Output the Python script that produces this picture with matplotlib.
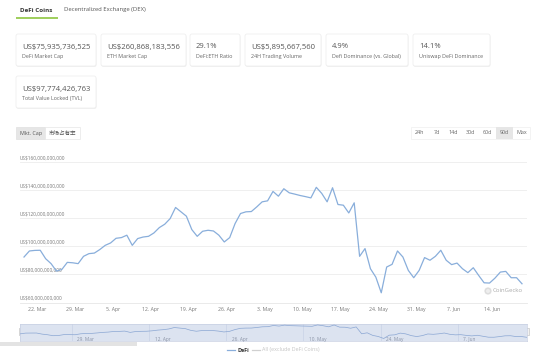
import numpy as np
import pandas as pd
import matplotlib
matplotlib.use("Agg")
import matplotlib.pyplot as plt
from matplotlib.patches import Rectangle, FancyBboxPatch, Circle

plt.rcParams['font.family'] = ['Open Sans', 'Noto Sans CJK SC', 'DejaVu Sans']

# DeFi market cap, US$ billions, one point per day (90d view)
start_time = '2021-03-19 14:00'
defi_mcap_bn = [92.3, 96.6, 97.0, 97.1, 91.1, 87.6, 82.3, 83.5, 88.5, 88.2,
                87.6, 92.8, 94.7, 95.1, 97.6, 100.6, 102.3, 105.6, 106.1, 107.8,
                100.6, 105.4, 106.5, 107.0, 109.4, 113.2, 115.6, 119.6, 127.5, 124.4,
                121.3, 111.8, 107.0, 110.6, 111.3, 110.8, 107.8, 103.0, 106.1, 116.1,
                123.2, 124.4, 124.6, 127.9, 131.5, 132.2, 138.9, 135.5, 140.8, 137.9,
                137.0, 136.0, 135.2, 134.3, 141.8, 137.5, 131.5, 141.5, 129.6, 129.1,
                123.6, 130.8, 92.8, 98.3, 84.0, 78.0, 66.9, 85.2, 87.1, 96.6,
                92.3, 82.8, 77.6, 82.8, 91.9, 90.0, 92.8, 97.1, 90.0, 86.9,
                88.0, 84.0, 81.2, 84.7, 79.2, 74.0, 73.8, 77.3, 81.6, 82.1,
                77.6, 77.6, 73.3]

y_ticks_bn = [60, 80, 100, 120, 140, 160]
x_tick_dates = ['2021-03-22', '2021-03-29', '2021-04-05', '2021-04-12', '2021-04-19',
                '2021-04-26', '2021-05-03', '2021-05-10', '2021-05-17', '2021-05-24',
                '2021-05-31', '2021-06-07', '2021-06-14']
x_tick_labels = ['22. Mar', '29. Mar', '5. Apr', '12. Apr', '19. Apr', '26. Apr', '3. May',
                 '10. May', '17. May', '24. May', '31. May', '7. Jun', '14. Jun']
nav_tick_dates = ['2021-03-29', '2021-04-12', '2021-04-26', '2021-05-10', '2021-05-24', '2021-06-07']
nav_tick_labels = ['29. Mar', '12. Apr', '26. Apr', '10. May', '24. May', '7. Jun']

card_values = ['US$75,935,736,525', 'US$260,868,183,556', '29.1%', 'US$5,895,667,560',
               '4.9%', '14.1%', 'US$97,774,426,763']
card_labels = ['DeFi Market Cap', 'ETH Market Cap', 'DeFi:ETH Ratio', '24H Trading Volume',
               'Defi Dominance (vs. Global)', 'Uniswap DeFi Dominance', 'Total Value Locked (TVL)']
range_buttons = ['24h', '7d', '14d', '30d', '60d', '90d', 'Max']

dates = pd.date_range(start_time, periods=len(defi_mcap_bn), freq='D')

W, H = 554, 354
fig = plt.figure(figsize=(W / 100, H / 100), dpi=100)
fig.patch.set_facecolor('white')

# pixel-space layer for the page elements
ui = fig.add_axes([0, 0, 1, 1])
ui.set_xlim(0, W)
ui.set_ylim(H, 0)
ui.axis('off')

# tabs
ui.text(36, 10, 'DeFi Coins', fontsize=4.5, fontweight='bold', color='#333333', ha='center', va='center')
ui.text(105, 10, 'Decentralized Exchange (DEX)', fontsize=4.2, color='#555555', ha='center', va='center')
ui.plot([16, 58], [17.5, 17.5], color='#8dc63f', lw=1.2, solid_capstyle='butt')

# stat cards
card_boxes = [(16, 34, 80), (101, 34, 85), (190, 34, 50), (245, 34, 76),
              (326, 34, 82), (413, 34, 77), (16, 76, 80)]
for (cx, cy, cw), val, lab in zip(card_boxes, card_values, card_labels):
    ui.add_patch(FancyBboxPatch((cx + 0.5, cy + 1), cw, 32, boxstyle='round,pad=0,rounding_size=2',
                                facecolor='#f1f1f1', edgecolor='none'))
    ui.add_patch(FancyBboxPatch((cx, cy), cw, 32, boxstyle='round,pad=0,rounding_size=2',
                                facecolor='white', edgecolor='#ececec', lw=0.5))
    ui.text(cx + 6, cy + 13, val, fontsize=5.5, color='#555555', ha='left', va='center')
    ui.text(cx + 6, cy + 22.5, lab, fontsize=3.9, color='#666666', ha='left', va='center')

# Mkt. Cap / dominance toggle
ui.add_patch(Rectangle((16, 127), 29, 12, facecolor='#e6e6e6', edgecolor='#e0e0e0', lw=0.5))
ui.add_patch(Rectangle((45, 127), 35, 12, facecolor='white', edgecolor='#e6e6e6', lw=0.5))
ui.text(30.5, 133, 'Mkt. Cap', fontsize=3.9, color='#555555', ha='center', va='center')
ui.text(62.5, 133, '市场占有率', fontsize=4.0, color='#555555', ha='center', va='center',
        family=['Noto Sans CJK SC', 'DejaVu Sans'])

# time range buttons
bx0, bw = 411, 17
ui.add_patch(Rectangle((bx0, 127), bw * len(range_buttons), 12, facecolor='white', edgecolor='#eeeeee', lw=0.5))
for i, lab in enumerate(range_buttons):
    if lab == '90d':
        ui.add_patch(Rectangle((bx0 + i * bw, 127), bw, 12, facecolor='#e6e6e6', edgecolor='none'))
    ui.text(bx0 + i * bw + bw / 2, 133, lab, fontsize=3.9, color='#666666', ha='center', va='center')

# main chart
px_day = 5.413
x_left_px, x_right_px, x_first_px = 20, 527, 24
y_top_px, y_bot_px = 161.7, 302.5
ax = fig.add_axes([x_left_px / W, (H - y_bot_px) / H, (x_right_px - x_left_px) / W,
                   (y_bot_px - y_top_px) / H])
ax.set_facecolor('none')
ax.set_xlim(dates[0] - pd.Timedelta(days=(x_first_px - x_left_px) / px_day),
            dates[0] + pd.Timedelta(days=(x_right_px - x_first_px) / px_day))
ax.set_ylim(60, 160)
for v in y_ticks_bn:
    ax.axhline(v, color='#ececec', lw=0.6, zorder=0)
    ax.text(0.0, v + 1.2, 'US$%d,000,000,000' % v, transform=ax.get_yaxis_transform(),
            fontsize=3.4, color='#777777', ha='left', va='bottom', zorder=1,
            bbox=dict(facecolor='white', edgecolor='none', pad=0.3))
ax.plot(dates, defi_mcap_bn, color='#89aedb', lw=0.9, zorder=3)
ax.set_yticks([])
ax.set_xticks(pd.to_datetime(x_tick_dates))
ax.set_xticklabels(x_tick_labels, fontsize=3.7, color='#777777')
ax.tick_params(axis='x', length=0, pad=3)
for s in ['top', 'left', 'right']:
    ax.spines[s].set_visible(False)
ax.spines['bottom'].set_color('#e6e6e6')
ax.spines['bottom'].set_linewidth(0.6)

# CoinGecko watermark
ui.add_patch(Circle((488, 291), 3.6, facecolor='#dddddd', edgecolor='none'))
ui.add_patch(Circle((488, 291), 2.0, facecolor='#eeeeee', edgecolor='none'))
ui.text(493, 291, 'CoinGecko', fontsize=4.3, color='#aaaaaa', ha='left', va='center')

# navigator
nav_top, nav_bot = 324, 341
nav = fig.add_axes([x_left_px / W, (H - nav_bot) / H, (x_right_px - x_left_px) / W,
                    (nav_bot - nav_top) / H])
nav.set_xlim(dates[0], dates[-1])
nav.set_ylim(53, 147)
nav.set_facecolor('#dce3f0')
nav.plot(dates, defi_mcap_bn, color='#8aa6d3', lw=0.5, zorder=3)
for d, lab in zip(pd.to_datetime(nav_tick_dates), nav_tick_labels):
    nav.axvline(d, color='#c9d2e6', lw=0.5, zorder=1)
    nav.text(d + pd.Timedelta(days=1), 64, lab, fontsize=3.4, color='#8a93a6', ha='left', va='center')
nav.set_xticks([])
nav.set_yticks([])
for s in nav.spines.values():
    s.set_color('#c7cfe2')
    s.set_linewidth(0.5)
for hx in [x_left_px, x_right_px]:
    ui.add_patch(Rectangle((hx - 1.5, 328), 3, 7, facecolor='#f2f2f2', edgecolor='#bbbbbb', lw=0.4, zorder=5))

# strip under navigator on the left
ui.add_patch(Rectangle((0, 342), 137, 4, facecolor='#e3e3e3', edgecolor='none'))

# legend
ui.plot([227, 235], [350, 350], color='#89aedb', lw=0.9)
ui.text(237, 350, 'DeFi', fontsize=3.9, color='#333333', ha='left', va='center', fontweight='bold')
ui.plot([252, 260], [350, 350], color='#d0d0d0', lw=0.9)
ui.text(262, 350, 'All (exclude DeFi Coins)', fontsize=3.9, color='#c4c4c4', ha='left', va='center')

fig.savefig('out.png', dpi=100)
